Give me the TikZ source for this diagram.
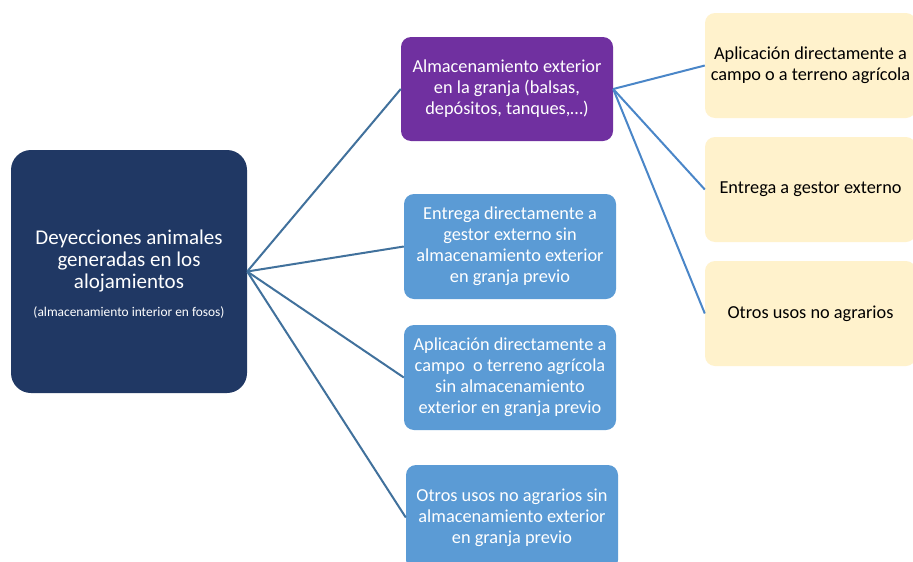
\documentclass[tikz,border=0pt]{standalone}
\usepackage{fontspec}
\setmainfont{Carlito}
\begin{document}
\begin{tikzpicture}[x=1pt,y=-1pt,
  box/.style={rounded corners=10pt, inner sep=0pt, align=center, font=\fontsize{18.3}{21}\selectfont},
  bluebox/.style={box, fill=boxblue, text=white, minimum width=212pt, minimum height=105pt},
  yelbox/.style={box, fill=boxyel, text=black, minimum width=211pt, minimum height=105pt},
  leftlink/.style={draw=linkdark, line width=2pt},
  rightlink/.style={draw=linklight, line width=2pt}]
\definecolor{boxnavy}{HTML}{203864}
\definecolor{boxpurple}{HTML}{7030A0}
\definecolor{boxblue}{HTML}{5B9BD5}
\definecolor{boxyel}{HTML}{FFF2CC}
\definecolor{linkdark}{HTML}{41719C}
\definecolor{linklight}{HTML}{4A86C8}
\useasboundingbox (0,0) rectangle (913,562);
\clip (0,0) rectangle (913,562);
\fill[white] (0,0) rectangle (913,562);

\node[box, rounded corners=20pt, fill=boxnavy, minimum width=236pt, minimum height=243pt] (main) at (129,271.5) {};
\node[align=center, inner sep=0pt, text=white, font=\fontsize{21}{22}\selectfont] (maintext) at (129,274.5)
  {Deyecciones animales\\generadas en los\\alojamientos\\[6pt]{\fontsize{13.4}{15}\selectfont (almacenamiento interior en fosos)}};

\node[box, fill=boxpurple, text=white, minimum width=212pt, minimum height=104pt] (ext) at (507,89)
  {Almacenamiento exterior\\en la granja (balsas,\\depósitos, tanques,…)};

\node[bluebox] (b1) at (510,246.5)
  {Entrega directamente a\\gestor externo sin\\almacenamiento exterior\\en granja previo};
\node[bluebox] (b2) at (510,377.5)
  {Aplicación directamente a\\campo\ \ o terreno agrícola\\sin almacenamiento\\exterior en granja previo};
\node[bluebox] (b3) at (512,517.5)
  {Otros usos no agrarios sin\\almacenamiento exterior\\en granja previo};

\node[yelbox] (y1) at (810.5,65.5)
  {Aplicación directamente a\\campo o a terreno agrícola};
\node[yelbox] (y2) at (810.5,189.5)
  {Entrega a gestor externo};
\node[yelbox] (y3) at (810.5,313.5)
  {Otros usos no agrarios};

\draw[leftlink] (main.east) -- (ext.west);
\draw[leftlink] (main.east) -- (b1.west);
\draw[leftlink] (main.east) -- (b2.west);
\draw[leftlink] (main.east) -- (b3.west);

\draw[rightlink] (ext.east) -- (y1.west);
\draw[rightlink] (ext.east) -- (y2.west);
\draw[rightlink] (ext.east) -- (y3.west);
\end{tikzpicture}
\end{document}
